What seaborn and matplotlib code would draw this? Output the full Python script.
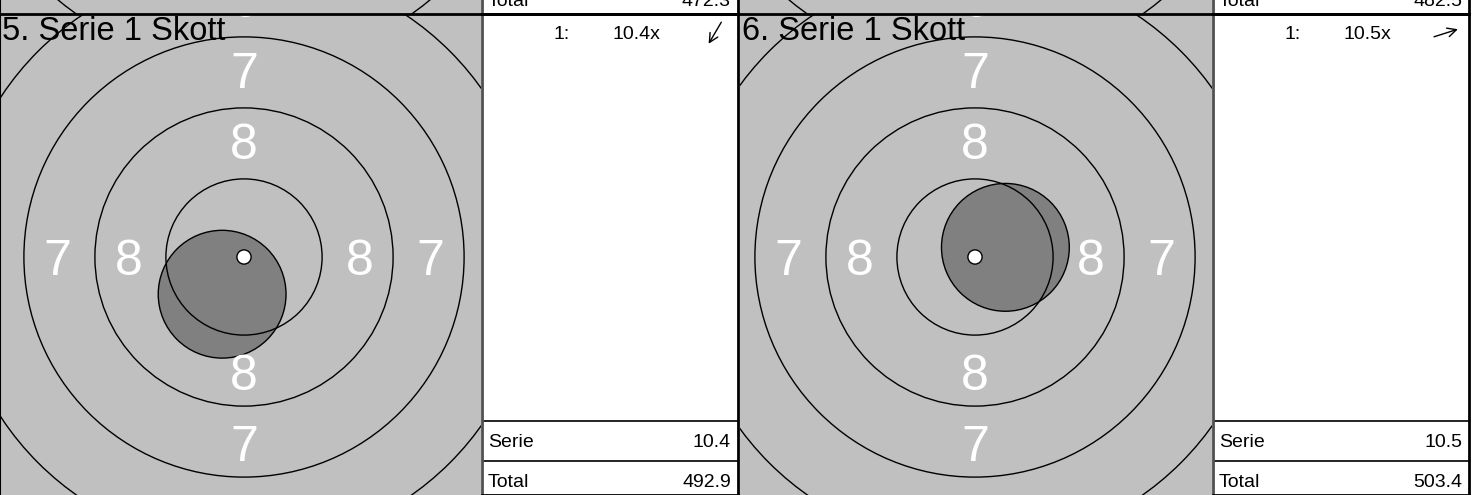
import numpy as np
import matplotlib
matplotlib.use("Agg")
from matplotlib import pyplot as plt
from matplotlib.patches import Circle
import seaborn as sns

# current row of series (5 and 6)
SERIES = [5, 6]
SHOT_VALUES = [[10.4], [10.5]]
SHOT_INNER = [[True], [True]]
SHOT_X = [[-0.77], [1.07]]   # mm from centre
SHOT_Y = [[-1.31], [0.34]]
SERIE_SUMS = [10.4, 10.5]
TOTALS = [492.9, 503.4]

# row above, only its bottom edge is visible
PREV_SERIES = [3, 4]
PREV_SERIE_SUMS = [10.2, 10.3]
PREV_TOTALS = [472.3, 482.5]

RING_NUMBERS = [1, 2, 3, 4, 5, 6, 7, 8]
RINGS = [1, 2, 3, 4, 5, 6, 7, 8, 9]

# air rifle target geometry (mm)
TEN_DOT_R = 0.25
RING_STEP = 2.5
PELLET_R = 2.25

W, H, DPI = 1477, 495, 100
PX_PER_MM = 28.4
ROW_TOP = 14
ROW_H = 481
# pixel layout of the two columns: target left, target width, centre, table left, table width
COLS = [dict(tx=0, tw=481, cx=244, bx=482, bw=256),
        dict(tx=740, tw=472, cx=975, bx=1213, bw=256)]
CENTRE_FROM_TOP = 243

GRAY = "#c0c0c0"
HOLE = "#808080"
NUM_FS = 36


def ring_radius(n):
    return TEN_DOT_R + RING_STEP * (10 - n)


def px_axes(fig, x, y, w, h):
    return fig.add_axes([x / W, 1 - (y + h) / H, w / W, h / H])


def draw_target(ax, col, title, xs, ys, left_edge):
    ax.set_facecolor(GRAY)
    left = col["cx"] - col["tx"]
    right = col["tw"] - left
    x0, x1 = -left / PX_PER_MM, right / PX_PER_MM
    y0, y1 = -(ROW_H - CENTRE_FROM_TOP) / PX_PER_MM, CENTRE_FROM_TOP / PX_PER_MM
    ax.set_xlim(x0, x1)
    ax.set_ylim(y0, y1)
    ax.set_xticks([])
    ax.set_yticks([])
    for s in ax.spines.values():
        s.set_visible(False)
    if left_edge:
        ax.spines["left"].set_visible(True)
        ax.spines["left"].set_color("black")
        ax.spines["left"].set_linewidth(1.5)

    for x, y in zip(xs, ys):
        ax.add_patch(Circle((x, y), PELLET_R, facecolor=HOLE,
                            edgecolor="black", lw=1, zorder=2))
    for n in RINGS:
        ax.add_patch(Circle((0, 0), ring_radius(n), fill=False,
                            edgecolor="black", lw=1, zorder=3))
    ax.add_patch(Circle((0, 0), TEN_DOT_R, facecolor="white",
                        edgecolor="black", lw=1, zorder=4))

    # ring numbers, clipped by the axes like on the printed target
    cap = 0.716 * NUM_FS / 72 * DPI / PX_PER_MM
    for n in RING_NUMBERS:
        r = ring_radius(n) - RING_STEP / 2 + 0.07
        for dx, dy in [(0, 1), (0, -1), (-1, 0), (1, 0)]:
            ax.text(dx * r, dy * r - cap / 2, str(n), color="white",
                    fontsize=NUM_FS, ha="center", va="baseline",
                    zorder=5, clip_on=True)

    ax.text(0.004, 1 - 2 / ROW_H, title, transform=ax.transAxes,
            fontsize=23.5, ha="left", va="top", zorder=6, color="black")


def draw_table(ax, values, inner, xs, ys, serie, total, col):
    ax.set_xlim(0, 1)
    ax.set_ylim(0, 1)
    ax.set_xticks([])
    ax.set_yticks([])
    for s in ax.spines.values():
        s.set_color("black")
        s.set_linewidth(2)
    ax.spines["left"].set_color("#505050")

    row_h = 28 / ROW_H
    for i, v in enumerate(values):
        yb = 1 - 25 / ROW_H - i * row_h
        ax.text(0.31, yb, f"{i + 1}:", fontsize=14, ha="center",
                va="baseline")
        ax.text(0.51, yb, f"{v:.1f}" + ("x" if inner[i] else ""),
                fontsize=14, ha="left", va="baseline")
        # direction arrow from shot offset
        ang = np.arctan2(ys[i], xs[i])
        half = 12.5
        cx, cy = 0.91, 1 - 19 / ROW_H - i * row_h
        dx = np.cos(ang) * half / col["bw"]
        dy = np.sin(ang) * half / ROW_H
        ax.annotate("", xy=(cx + dx, cy + dy), xytext=(cx - dx, cy - dy),
                    xycoords="axes fraction",
                    arrowprops=dict(arrowstyle="->", lw=1,
                                    mutation_scale=16, color="black",
                                    shrinkA=0, shrinkB=0))

    ax.axhline(74 / ROW_H, color="black", lw=1.2)
    ax.axhline(34 / ROW_H, color="black", lw=1.2)
    ax.text(6 / col["bw"], 48 / ROW_H, "Serie", fontsize=14,
            ha="left", va="baseline")
    ax.text(1 - 7 / col["bw"], 48 / ROW_H, f"{serie:.1f}", fontsize=14,
            ha="right", va="baseline")
    ax.text(6 / col["bw"], 8 / ROW_H, "Total", fontsize=14,
            ha="left", va="baseline")
    ax.text(1 - 7 / col["bw"], 8 / ROW_H, f"{total:.1f}", fontsize=14,
            ha="right", va="baseline")


sns.set_style("white")
plt.rcParams["font.family"] = ["Liberation Sans", "DejaVu Sans"]
plt.rcParams["text.color"] = "black"

fig = plt.figure(figsize=(W / DPI, H / DPI), dpi=DPI)

rows = [
    (ROW_TOP - ROW_H, PREV_SERIES, [[], []], [[], []], [[], []],
     [[], []], PREV_SERIE_SUMS, PREV_TOTALS),
    (ROW_TOP, SERIES, SHOT_VALUES, SHOT_INNER, SHOT_X, SHOT_Y,
     SERIE_SUMS, TOTALS),
]
for top, series, vals, inner, xs, ys, sums, tots in rows:
    for k, col in enumerate(COLS):
        n_shots = len(vals[k])
        title = f"{series[k]}. Serie {max(n_shots, 1)} Skott"
        ax_t = px_axes(fig, col["tx"], top, col["tw"], ROW_H)
        draw_target(ax_t, col, title, xs[k], ys[k], k == 0)
        ax_b = px_axes(fig, col["bx"], top, col["bw"], ROW_H)
        draw_table(ax_b, vals[k], inner[k], xs[k], ys[k], sums[k], tots[k],
                   col)

# separator between the two rows
fig.add_artist(plt.Line2D([0, (COLS[1]["bx"] + COLS[1]["bw"]) / W],
                          [1 - ROW_TOP / H] * 2, color="black", lw=2))

fig.savefig("out.png", dpi=DPI)
